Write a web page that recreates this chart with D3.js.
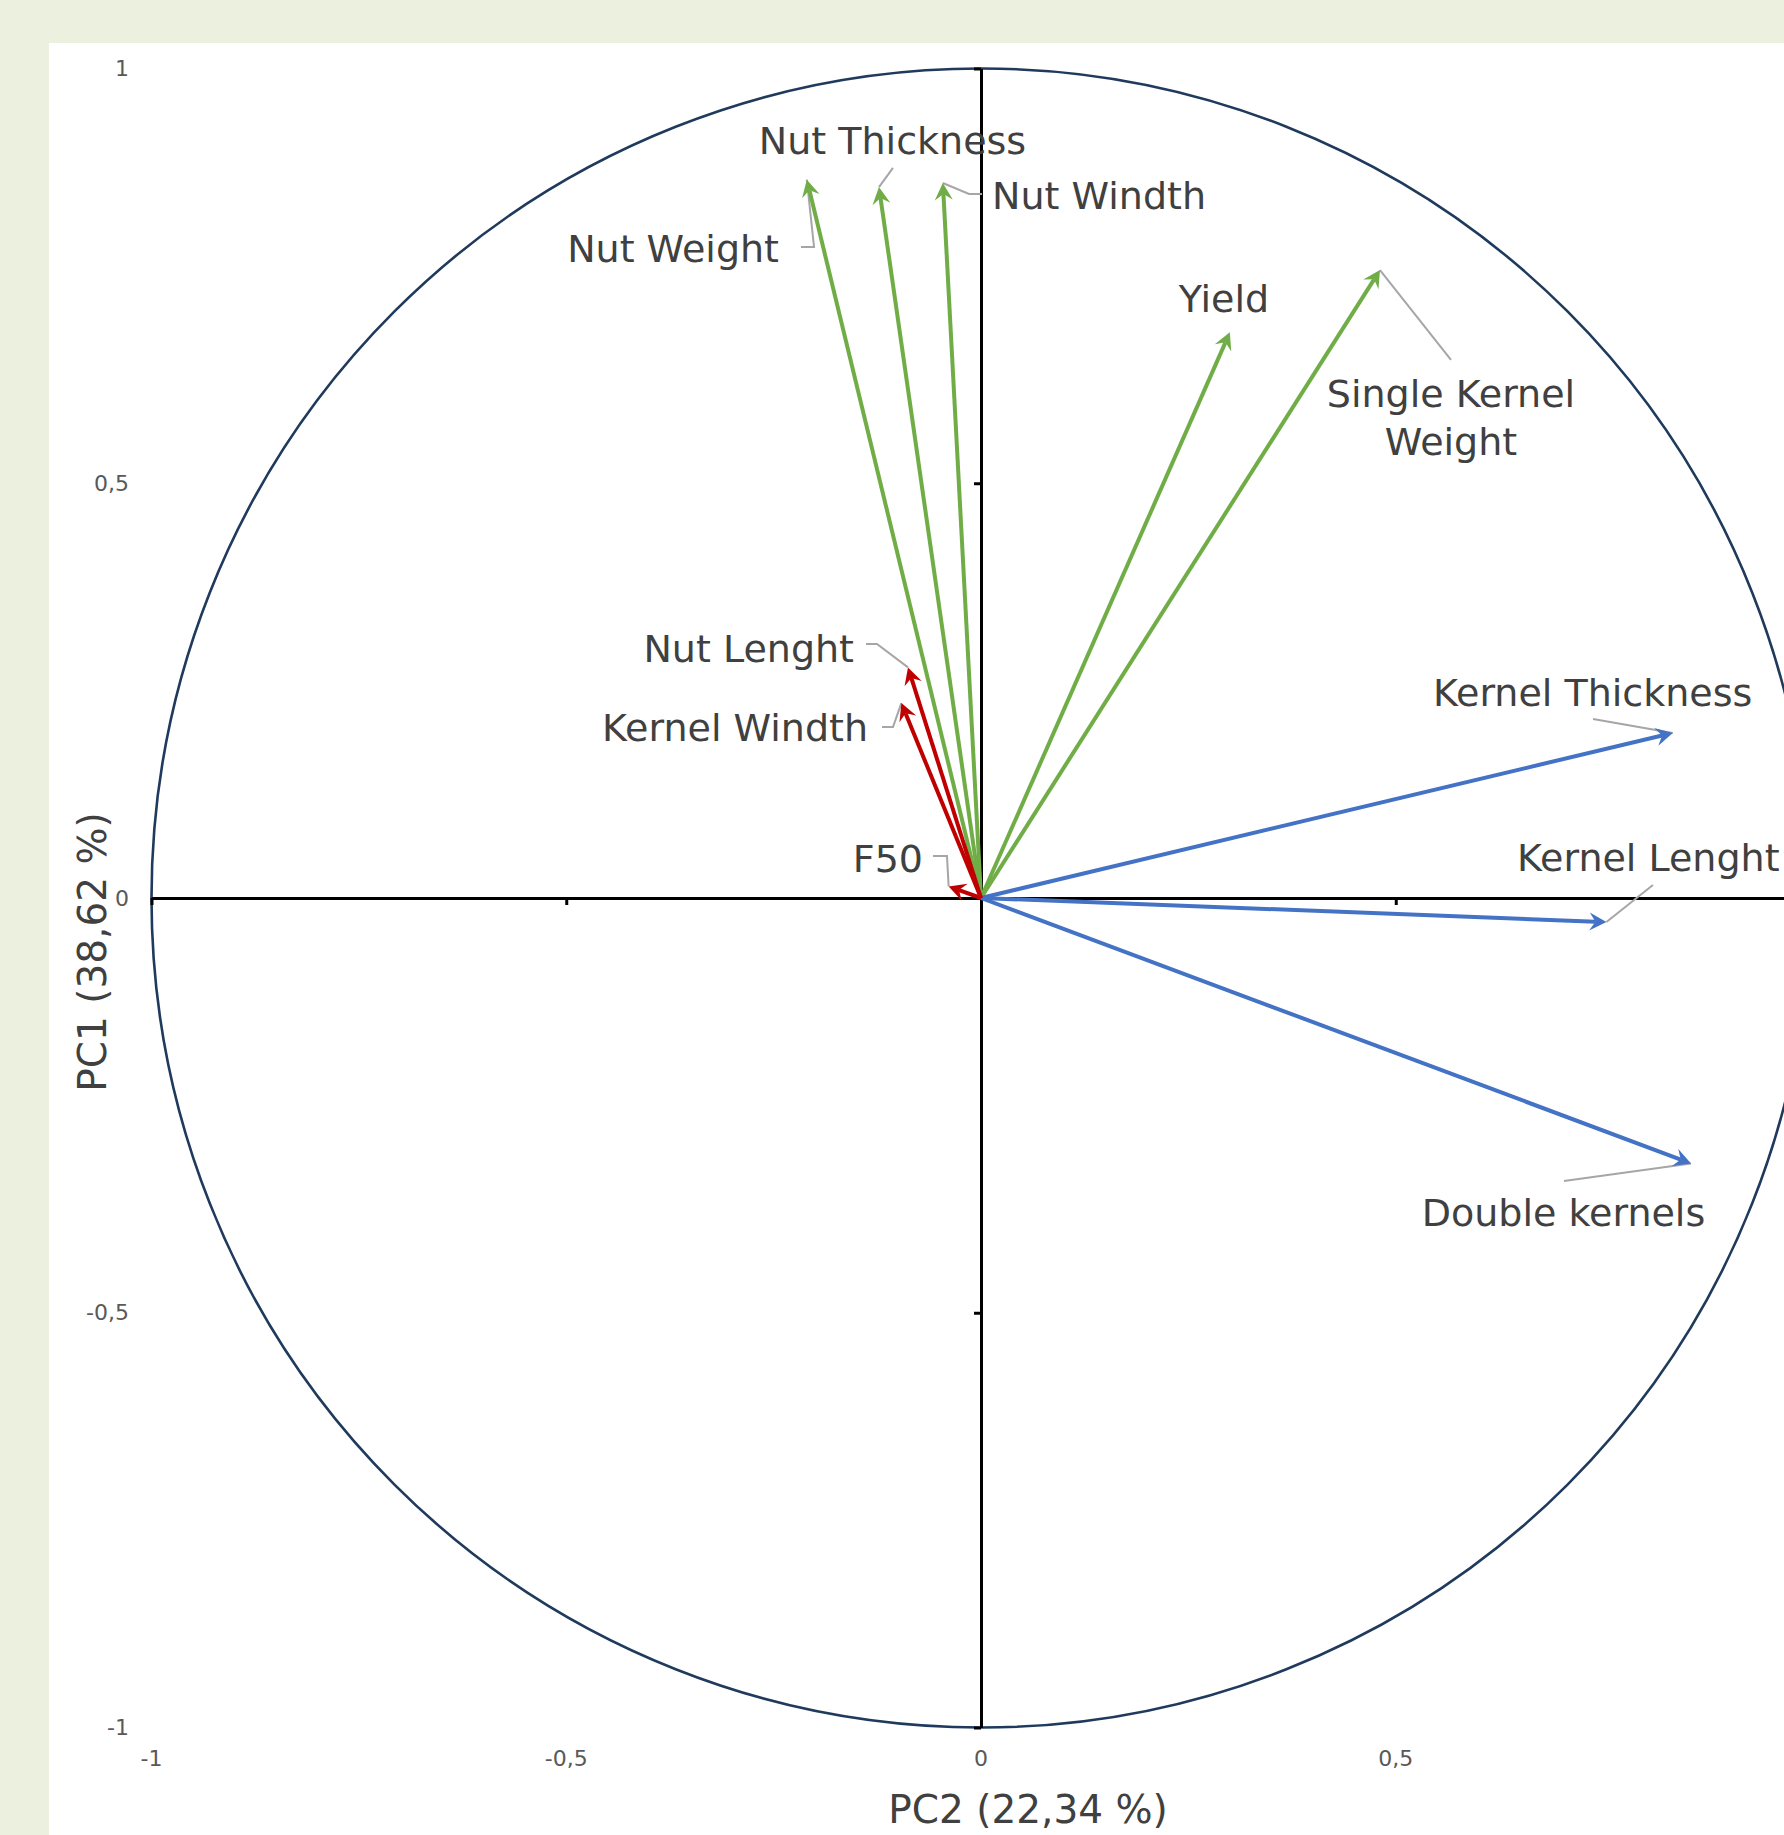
<!DOCTYPE html>
<html><head><meta charset="utf-8">
<script src="https://cdn.jsdelivr.net/npm/d3@7"></script>
<style>
html,body{margin:0;padding:0;background:#EBF0DF;}
svg{display:block;}
</style>
</head><body>
<svg id="chart" width="1784" height="1835"></svg>
<script>
// ---------- DATA ----------
const variables = ["Nut Weight","Nut Thickness","Nut Windth","Yield","Single Kernel Weight",
  "Kernel Thickness","Kernel Lenght","Double kernels","Nut Lenght","Kernel Windth","F50"];
const pc2Values = [-0.210,-0.123,-0.046,0.300,0.481,0.834,0.754,0.856,-0.088,-0.096,-0.039];
const pc1Values = [0.866,0.857,0.862,0.682,0.757,0.199,-0.029,-0.320,0.278,0.235,0.014];
const groups    = ["g","g","g","g","g","b","b","b","r","r","r"];
const xTickValues = [-1,-0.5,0,0.5,1];
const xTickLabels = ["-1","-0,5","0","0,5","1"];
const yTickValues = [-1,-0.5,0,0.5,1];
const yTickLabels = ["-1","-0,5","0","0,5","1"];
const xTitle = "PC2 (22,34 %)";
const yTitle = "PC1 (38,62 %)";

// ---------- LAYOUT (label placement in data units) ----------
const labelLayout = [
  {anchor:"end",    x:-0.2435, y:[0.7667],        leader:[[-0.2170,0.7848],[-0.2013,0.7848]]},
  {anchor:"middle", x:-0.1067, y:[0.8969],        leader:[[-0.1061,0.8802]]},
  {anchor:"start",  x: 0.0133, y:[0.8306],        leader:[[0.0012,0.8487],[-0.0145,0.8487]]},
  {anchor:"middle", x: 0.2929, y:[0.7065],        leader:null},
  {anchor:"middle", x: 0.5666, y:[0.5919,0.5340], leader:[[0.5666,0.6486]], lines:["Single Kernel","Weight"]},
  {anchor:"start",  x: 0.5449, y:[0.2315],        leader:[[0.7378,0.2158]]},
  {anchor:"start",  x: 0.6462, y:[0.0326],        leader:[[0.8101,0.0157]]},
  {anchor:"middle", x: 0.7022, y:[-0.3954],       leader:[[0.7028,-0.3412]]},
  {anchor:"end",    x:-0.1531, y:[0.2845],        leader:[[-0.1386,0.3062],[-0.1254,0.3062]]},
  {anchor:"end",    x:-0.1362, y:[0.1893],        leader:[[-0.1193,0.2061],[-0.1061,0.2061]]},
  {anchor:"end",    x:-0.0699, y:[0.0313],        leader:[[-0.0579,0.0506],[-0.0410,0.0506]]}
];
const colors = {g:"#70AD47", b:"#4472C4", r:"#C00000"};
const FONT = "'DejaVu Sans', sans-serif";

// ---------- CHART ----------
const svg = d3.select("#chart");
const W = 1784, H = 1835;
svg.append("rect").attr("x",0).attr("y",0).attr("width",W).attr("height",H).attr("fill","#EBF0DF");
svg.append("rect").attr("x",49).attr("y",43).attr("width",W-49).attr("height",H-43).attr("fill","#FFFFFF");

const x = d3.scaleLinear().domain([-1,1]).range([151.5,1810.5]);
const y = d3.scaleLinear().domain([-1,1]).range([1727.5,68.5]);
const r = x(1)-x(0);

// circle
svg.append("circle").attr("cx",x(0)).attr("cy",y(0)).attr("r",r)
  .attr("fill","none").attr("stroke","#1F3A5C").attr("stroke-width",2.6);

// axes through origin
const xAxis = d3.axisBottom(x).tickValues(xTickValues).tickFormat(()=>"").tickSize(7).tickSizeOuter(0);
const yAxis = d3.axisLeft(y).tickValues(yTickValues).tickFormat(()=>"").tickSize(7).tickSizeOuter(0);
const gx = svg.append("g").attr("transform",`translate(0,${y(0)})`).call(xAxis);
const gy = svg.append("g").attr("transform",`translate(${x(0)},0)`).call(yAxis);
[gx,gy].forEach(g=>{
  g.select(".domain").attr("stroke","#000").attr("stroke-width",3);
  g.selectAll(".tick line").attr("stroke","#000").attr("stroke-width",3);
  g.selectAll(".tick").filter(d=>d===0).remove();
});

// tick labels (placed at chart edges like the original); the label at x=1 lies outside the picture
const xLab = xTickValues.map((v,i)=>({v, t:xTickLabels[i]})).filter(d=>x(d.v) < W-10);
svg.append("g").selectAll("text").data(xLab).join("text")
  .attr("x",d=>x(d.v)).attr("y",1758).attr("text-anchor","middle").attr("dominant-baseline","central")
  .attr("font-family",FONT).attr("font-size",22).attr("fill","#595959")
  .text(d=>d.t);
svg.append("g").selectAll("text").data(yTickValues).join("text")
  .attr("x",129).attr("y",d=>y(d)).attr("text-anchor","end").attr("dominant-baseline","central")
  .attr("font-family",FONT).attr("font-size",22).attr("fill","#595959")
  .text((d,i)=>yTickLabels[i]);

// axis titles
svg.append("text").attr("x",1028).attr("y",1823).attr("text-anchor","middle")
  .attr("font-family",FONT).attr("font-size",39).attr("fill","#404040").text(xTitle);
svg.append("text").attr("transform","translate(106,952) rotate(-90)").attr("text-anchor","middle")
  .attr("font-family",FONT).attr("font-size",39).attr("fill","#404040").text(yTitle);

// data objects
const data = variables.map((name,i)=>({name, px:pc2Values[i], py:pc1Values[i], g:groups[i], lay:labelLayout[i]}));

// leader lines
svg.append("g").selectAll("path").data(data.filter(d=>d.lay.leader)).join("path")
  .attr("d",d=>{
    const pts = d.lay.leader.map(p=>[x(p[0]),y(p[1])]).concat([[x(d.px),y(d.py)]]);
    return d3.line()(pts);
  })
  .attr("fill","none").attr("stroke","#A6A6A6").attr("stroke-width",2);

// arrows
const headLen = 17, headHalf = 9, notch = 11;
const arrows = svg.append("g");
data.forEach(d=>{
  const x0 = x(0), y0 = y(0), x1 = x(d.px), y1 = y(d.py);
  const ang = Math.atan2(y1-y0, x1-x0);
  const ex = x1 - Math.cos(ang)*notch, ey = y1 - Math.sin(ang)*notch;
  arrows.append("line").attr("x1",x0).attr("y1",y0).attr("x2",ex).attr("y2",ey)
    .attr("stroke",colors[d.g]).attr("stroke-width",4);
  arrows.append("path")
    .attr("d",`M0,0 L${-headLen},${-headHalf} L${-notch},0 L${-headLen},${headHalf} Z`)
    .attr("transform",`translate(${x1},${y1}) rotate(${ang*180/Math.PI})`)
    .attr("fill",colors[d.g]);
});

// labels
const lab = svg.append("g");
data.forEach(d=>{
  const lines = d.lay.lines || [d.name];
  lines.forEach((t,k)=>{
    lab.append("text").attr("x",x(d.lay.x)).attr("y",y(d.lay.y[k]))
      .attr("text-anchor",d.lay.anchor)
      .attr("font-family",FONT).attr("font-size",38).attr("fill","#404040")
      .text(t);
  });
});
</script>
</body></html>
